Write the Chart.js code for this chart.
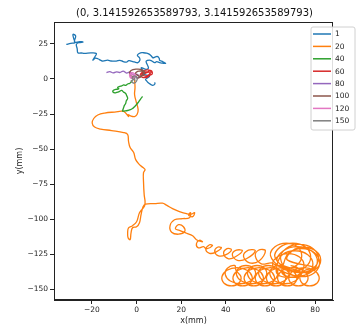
<!DOCTYPE html>
<html>
<head>
<meta charset="utf-8">
<script src="https://cdn.jsdelivr.net/npm/chart.js@4/dist/chart.umd.min.js"></script>
<style>
  html, body { margin: 0; padding: 0; background: #fff; }
</style>
</head>
<body>
<canvas id="c" width="358" height="329"></canvas>
<script>
// Tracked trajectories (x, y in mm) for each run
const seriesLabels = ['1', '20', '40', '60', '80', '100', '120', '150'];
const xTicks = [-20, 0, 20, 40, 60, 80];
const yTicks = [-150, -125, -100, -75, -50, -25, 0, 25];

const track1 = [
  [-31.5,24.6],[-29.5,25.4],[-27.7,25.9],[-28.2,29],[-28.5,31.8],[-27.3,30.6],[-27.8,27.5],[-27.7,25.9],
  [-25.5,26.6],[-24.0,26.3],[-26,25.8],[-27.0,24.6],[-26.6,21.5],[-26.3,18.7],[-24.8,18.5],[-23.3,18.2],
  [-20.5,18.6],[-18.0,18.2],[-18.6,16],[-19.6,13.4],[-18.5,14.8],[-17.3,14.4],[-16,13.2],[-15.1,12.7],
  [-13,13.4],[-11.5,12.8],[-9.1,12.7],[-7.5,13.3],[-6,12.4],[-4.6,12.0],[-3.5,13],[-2.4,12.7],[-1,12.1],
  [0.6,11.6],[1.5,13.5],[1.3,15.1],[0.4,16.5],[0.6,17.5],[1.8,18.6],[2.8,18.7],[4.5,18.4],[5.8,17.5],
  [6.8,16],[7.3,15.1],[8.5,15.8],[9.5,15.9],[10.2,14.5],[10.3,13.4],[11.8,12.2],[13.0,11.1],[11.5,11.3],
  [10.3,11.6],[9,12.3],[8.1,11.6],[6.8,12.8],[5.8,13.4],[4.3,12.7],[4.6,10.8],[5.1,9.1],[5.3,7.6],
  [4.3,6.8],[2.1,8.0],[2.8,5.5],[3.6,3.2],[5,2.6],[5.8,2.0],[5,0.8],[4.0,-0.4],[4.6,-1.6],[5.1,-2.5],
  [6.3,-3.9],[7.2,-4.6],[8.2,-3.6],[8.1,-2.5]
];

const track20 = [
  [-0.9,-0.4],[-0.7,-6.1],[-0.9,-11.1],[-0.2,-16.1],[0.7,-21.8],[0.2,-25.4],[-0.9,-26.8],[-2.7,-26.4],
  [-3.8,-25.4],[-3.6,-26.8],[-5.8,-23.2],[-9.8,-23.6],[-14.3,-24.3],[-17.4,-25.7],[-19.2,-28.2],
  [-19.9,-31.4],[-18.8,-34.3],[-16.1,-35.7],[-11.2,-36.8],[-5.8,-38.2],[-4.0,-39.6],[-3.6,-44.6],
  [-2.9,-48.9],[-1.3,-52.5],[-0.4,-57.5],[1.3,-61.1],[2.9,-63.2],[3.8,-64.6],[3.1,-66.8],[3.1,-73.2],
  [3.4,-82.5],[3.8,-87.5],[3.6,-90.4],[2.7,-92.5],[1.3,-95.4],[0,-101.8],[-1.8,-104.6],[-3.6,-106.1],
  [-4.0,-109.6],[-3.8,-113.2],[-2.9,-114.6],[-2.5,-109.9],[-1.8,-106.1],[0,-105.4],[1.3,-102.5],
  [2.0,-96.8],[2.9,-91.1],[4.0,-89.3],[8.1,-88.9],[11.6,-88.6],[13.4,-90],[16.1,-92.5],[19.2,-94.6],
  [22.4,-96.1],[24.6,-96.4],[26.0,-95.3],[25.1,-98.2],[23.3,-97.1],[24.2,-95.4],[23.7,-98.9],
  [20.6,-99.6],[17.0,-100.4],[15.0,-104.6],[15.7,-109.3],[18.8,-110.7],[21.5,-108.9],[21.0,-105.4],
  [18.8,-103.9],[17.4,-106.8],[19.2,-107.9],[22.4,-110],[25.1,-111.8],[26.8,-114.6],
  // small loops drifting right
  [29.5,-116.1],[28.2,-115],[26.8,-117.5],[27.7,-120.4],[30.0,-119.6],[31.3,-121.1],
  [34.0,-118.9],[32.7,-118.2],[31.0,-121.5],[32.7,-124.3],[35.3,-123.6],
  [38.0,-120.4],[36.2,-120.0],[35.0,-123.0],[36.7,-126.1],[39.8,-125.4],
  [42.5,-121.8],[40.5,-121.0],[39.0,-124.6],[41.2,-128.2],[44.3,-126.8],
  [47.4,-122.5],[44.7,-122.1],[42.9,-125.4],[45.2,-129.3],[49.2,-128.2],
  [53.2,-122.5],[50.1,-122.1],[47.9,-126.4],[50.6,-131.1],[55.0,-129.6],
  [57.7,-122.5],[54.6,-122.1],[53.2,-126.4],[55.9,-131.8],[60.4,-131.1],
  // wide loops around the end zone
  [62,-132.4],[67,-135],[72,-132.4],[74,-126],[72,-119.6],[67,-117],[62,-119.6],[60,-126],
  [64.3,-134.1],[70,-137],[75.7,-134.1],[78,-127],[75.7,-119.9],[70,-117],[64.3,-119.9],[62,-127],
  [67,-135.1],[73,-138],[79,-135.1],[81.5,-128],[79,-120.9],[73,-118],[67,-120.9],[64.5,-128],
  [68.3,-138.1],[74,-141],[79.7,-138.1],[82,-131],[79.7,-123.9],[74,-121],[68.3,-123.9],[66,-131],
  [65.3,-138.7],[71,-141.5],[76.7,-138.7],[79,-132],[76.7,-125.3],[71,-122.5],[65.3,-125.3],[63,-132],
  [63,-139],[68,-141.5],[73,-139],[75,-133],[73,-127],[68,-124.5],[63,-127],[61,-133],
  [65.6,-137.4],[72,-140.5],[78.4,-137.4],[81,-130],[78.4,-122.6],[72,-119.5],[65.6,-122.6],[63,-130],
  [69.7,-135.4],[75,-138],[80.3,-135.4],[82.5,-129],[80.3,-122.6],[75,-120],[69.7,-122.6],[67.5,-129],
  // lower row, heading left
  [80,-134.5],[75.5,-136.4],[73.25,-141],[74.2,-145.6],[77.5,-147.5],[80.8,-145.6],[81.75,-141],[79.5,-136.4],
  [75,-134.5],[70.5,-136.4],[68.25,-141],[69.2,-145.6],[72.5,-147.5],[75.8,-145.6],[76.75,-141],[74.5,-136.4],
  [70,-134.5],[65.5,-136.4],[63.25,-141],[64.2,-145.6],[67.5,-147.5],[70.8,-145.6],[71.75,-141],[69.5,-136.4],
  [65,-134.5],[60.5,-136.4],[58.25,-141],[59.2,-145.6],[62.5,-147.5],[65.8,-145.6],[66.75,-141],[64.5,-136.4],
  [60,-134.5],[55.5,-136.4],[53.25,-141],[54.2,-145.6],[57.5,-147.5],[60.8,-145.6],[61.75,-141],[59.5,-136.4],
  [55,-134.5],[50.5,-136.4],[48.25,-141],[49.2,-145.6],[52.5,-147.5],[55.8,-145.6],[56.75,-141],[54.5,-136.4],
  [50,-134.5],[45.5,-136.4],[43.25,-141],[44.2,-145.6],[47.5,-147.5],[50.8,-145.6],[51.75,-141],[49.5,-136.4],
  [45,-134.5],[40.5,-136.4],[38.25,-141],[39.2,-145.6],[42.5,-147.5],[45.8,-145.6],[46.75,-141],[44.5,-136.4],
  // lower row, heading back right
  [44,-133],[40.7,-134.9],[39.75,-139.5],[42,-144.1],[46.5,-146],[51,-144.1],[53.25,-139.5],[52.3,-134.9],
  [49,-133],[45.7,-134.9],[44.75,-139.5],[47,-144.1],[51.5,-146],[56,-144.1],[58.25,-139.5],[57.3,-134.9],
  [54,-133],[50.7,-134.9],[49.75,-139.5],[52,-144.1],[56.5,-146],[61,-144.1],[63.25,-139.5],[62.3,-134.9],
  [59,-133],[55.7,-134.9],[54.75,-139.5],[57,-144.1],[61.5,-146],[66,-144.1],[68.25,-139.5],[67.3,-134.9],
  [64,-133],[60.7,-134.9],[59.75,-139.5],[62,-144.1],[66.5,-146],[71,-144.1],[73.25,-139.5],[72.3,-134.9],
  [69,-133]
];

const track40 = [
  [-1.8,-1.1],[-2.5,-2.3],[-3.1,-3.2],[-4.0,-3.6],[-4.9,-4.6],[-5.8,-4.3],[-6.7,-5.0],[-7.5,-5.3],
  [-8.5,-6.1],[-8.0,-7.0],[-9.4,-7.5],[-10.2,-7.9],[-10.7,-8.9],[-9.8,-9.9],[-8.9,-9.6],[-7.8,-9.0],
  [-6.7,-8.2],[-5.8,-9.4],[-4.9,-10.4],[-4.4,-12.0],[-4.0,-13.9],[-4.6,-15.6],[-4.9,-17.5],[-5.5,-19.0],
  [-5.8,-20.4],[-6.1,-21.8],[-6.3,-22.9],[-5.2,-22.8],[-4.0,-22.5],[-2.8,-21.9],[-1.8,-21.1],
  [-0.8,-19.6],[0,-18.2],[0.7,-16.8],[1.3,-15.4],[2.0,-13.8],[2.7,-12.5]
];

const track60 = [
  [1.5,3],[3,5.5],[5,6.5],[6.5,5],[5.5,3],[4,2],[2.5,3.5],[4,5],[6,4],[5,1.5],[3,1],[2,2.5],
  [4.5,4.5],[6.5,6],[7,3.5],[5.5,2.5]
];

const track80 = [
  [-13.5,4.5],[-12,5.2],[-10.5,4.3],[-9,5.1],[-7.5,4.6],[-6,5.6],[-4.5,4.2],[-3,5],[-2,3.5],[-1,2.5],
  [0,3.5],[1,2],[0.5,0.5],[-0.5,1.5]
];

const track100 = [
  [-1,1],[-3,3],[-2.5,6],[0,7],[2.5,6.5],[3.5,4],[1.5,2],[-0.5,4],[1,5.5],[3,5],[2,1.5],[0,0.5]
];

const track120 = [
  [-1,2],[-2.5,3.5],[-3,1.5],[-1.5,0.5],[-0.5,2.5],[-2,4.5],[-3.2,2.8],[-2,1]
];

const track150 = [
  [-0.5,1],[-1.5,-0.5],[-2.5,-1.5],[-1,-3],[0,-1.5],[0.3,1],[-1,2],[-2,0.5],[-0.5,-1]
];

const tracks = [track1, track20, track40, track60, track80, track100, track120, track150];
const palette = ['#1f77b4', '#ff7f0e', '#2ca02c', '#d62728', '#9467bd', '#8c564b', '#e377c2', '#7f7f7f'];

const FONT = "'DejaVu Sans', 'Liberation Sans', sans-serif";
const minusFmt = v => (v < 0 ? '\u2212' + Math.abs(v) : String(v));

const datasets = tracks.map((t, i) => ({
  label: seriesLabels[i],
  data: t.map(p => ({ x: p[0], y: p[1] })),
  showLine: true,
  borderColor: palette[i],
  backgroundColor: palette[i],
  borderWidth: 1.3,
  pointRadius: 0,
  tension: 0.4,
  order: tracks.length - i
}));

// Title, frame and legend box drawn on the canvas
const decor = {
  id: 'decor',
  afterDatasetsDraw(chart) {
    const { ctx, chartArea: a } = chart;
    ctx.save();
    ctx.strokeStyle = '#222';
    ctx.lineWidth = 1;
    ctx.strokeRect(Math.round(a.left) + 0.5, Math.round(a.top) + 0.5,
                   Math.round(a.right - a.left) - 1, Math.round(a.bottom - a.top) - 1);
    ctx.fillStyle = '#111';
    ctx.font = '10px ' + FONT;
    ctx.textAlign = 'center';
    ctx.textBaseline = 'middle';
    ctx.fillText('(0, 3.141592653589793, 3.141592653589793)', (a.left + a.right) / 2 + 1, 13);
    ctx.restore();
  },
  afterDraw(chart) {
    const { ctx } = chart;
    const bx = 311, by = 27, bw = 44, bh = 103, r = 2;
    ctx.save();
    ctx.beginPath();
    ctx.moveTo(bx + r, by);
    ctx.arcTo(bx + bw, by, bx + bw, by + bh, r);
    ctx.arcTo(bx + bw, by + bh, bx, by + bh, r);
    ctx.arcTo(bx, by + bh, bx, by, r);
    ctx.arcTo(bx, by, bx + bw, by, r);
    ctx.closePath();
    ctx.fillStyle = 'rgba(255,255,255,0.85)';
    ctx.fill();
    ctx.strokeStyle = '#d0d0d0';
    ctx.lineWidth = 1;
    ctx.stroke();
    ctx.font = '7.5px ' + FONT;
    ctx.textAlign = 'left';
    ctx.textBaseline = 'middle';
    chart.data.datasets.forEach((ds, i) => {
      const y = 34 + i * 12.4;
      ctx.strokeStyle = ds.borderColor;
      ctx.lineWidth = 1.5;
      ctx.beginPath();
      ctx.moveTo(313, y);
      ctx.lineTo(331, y);
      ctx.stroke();
      ctx.fillStyle = '#222';
      ctx.fillText(ds.label, 335, y + 0.5);
    });
    ctx.restore();
  }
};

new Chart(document.getElementById('c').getContext('2d'), {
  type: 'scatter',
  data: { datasets },
  plugins: [decor],
  options: {
    responsive: false,
    animation: false,
    devicePixelRatio: 1,
    layout: { padding: { top: 22, right: 25, bottom: 0, left: 0 } },
    plugins: { legend: { display: false }, tooltip: { enabled: false }, title: { display: false } },
    scales: {
      x: {
        type: 'linear', min: -37, max: 88,
        afterBuildTicks: s => { s.ticks = xTicks.map(v => ({ value: v })); },
        afterFit: s => { s.height = 29; },
        ticks: { callback: minusFmt, font: { family: FONT, size: 7.5 }, color: '#222', padding: 2, maxRotation: 0, autoSkip: false },
        grid: { drawOnChartArea: false, drawTicks: true, tickLength: 4, color: '#222' },
        border: { display: true, color: '#222', width: 1 },
        title: { display: true, text: 'x(mm)', font: { family: FONT, size: 8 }, color: '#222', padding: { top: 0, bottom: 3 } }
      },
      y: {
        type: 'linear', min: -157.6, max: 40.6,
        afterBuildTicks: s => { s.ticks = yTicks.map(v => ({ value: v })); },
        afterFit: s => { s.width = 54; },
        ticks: { callback: minusFmt, font: { family: FONT, size: 7.5 }, color: '#222', padding: 2, autoSkip: false },
        grid: { drawOnChartArea: false, drawTicks: true, tickLength: 4, color: '#222' },
        border: { display: true, color: '#222', width: 1 },
        title: { display: true, text: 'y(mm)', font: { family: FONT, size: 8 }, color: '#222', padding: { top: 15, bottom: 0 } }
      }
    }
  }
});
</script>
</body>
</html>
